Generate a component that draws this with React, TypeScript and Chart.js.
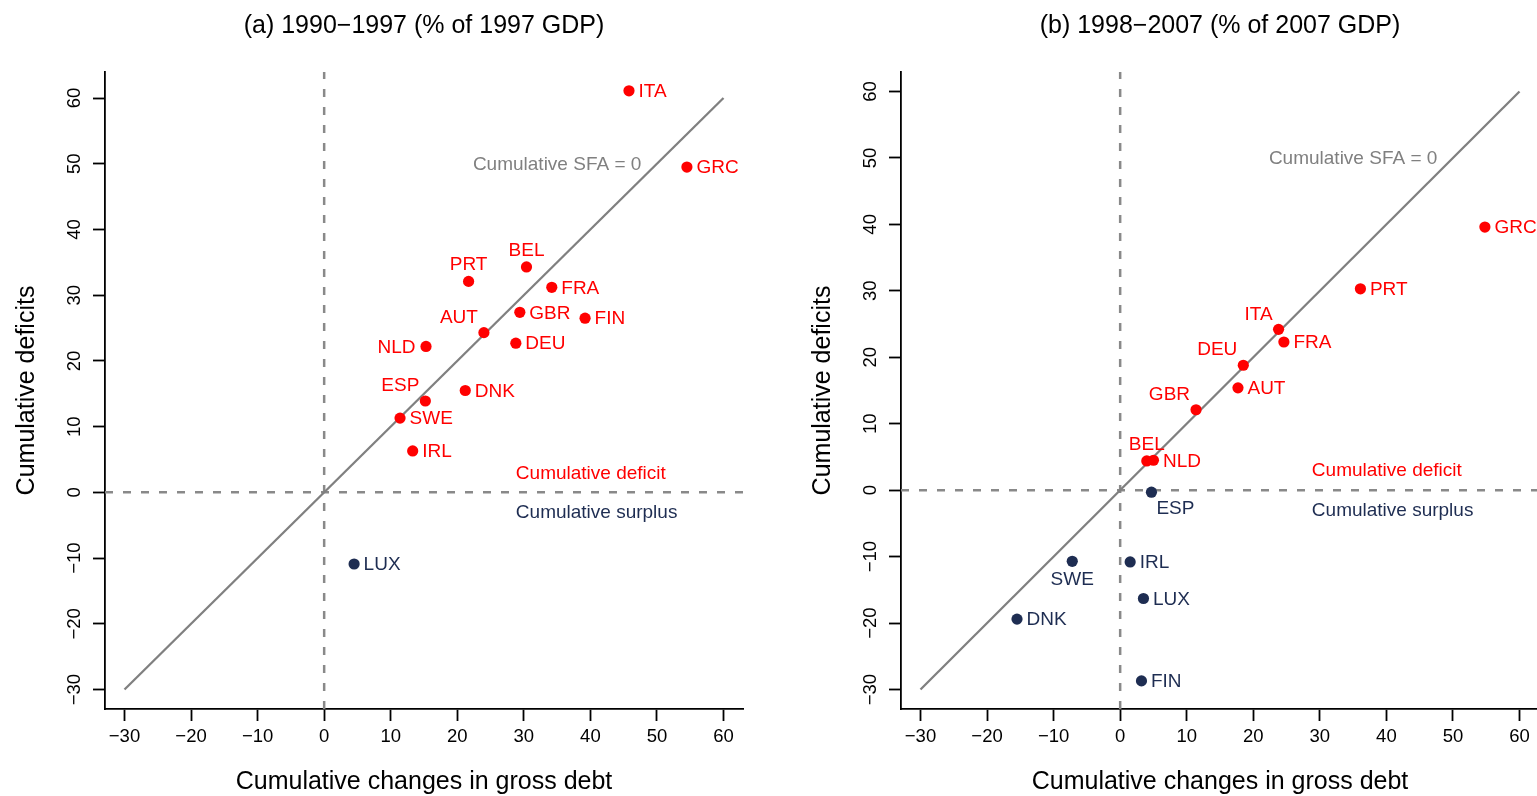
import React, { useEffect, useRef } from "react";
import { Chart, registerables } from "chart.js";

Chart.register(...registerables);

// ---------- data ----------
const countriesA = ["ITA", "GRC", "BEL", "PRT", "FRA", "GBR", "FIN", "AUT", "DEU", "NLD", "DNK", "ESP", "SWE", "IRL", "LUX"];
const debtA = [45.8, 54.5, 30.4, 21.7, 34.2, 29.4, 39.2, 24.0, 28.8, 15.3, 21.2, 15.2, 11.4, 13.3, 4.5];
const deficitA = [61.1, 49.5, 34.3, 32.1, 31.2, 27.4, 26.5, 24.3, 22.7, 22.2, 15.5, 13.9, 11.3, 6.3, -10.9];
const labelPosA = ["right", "right", "above", "above", "right", "right", "right", "aboveLeft", "right", "left", "right", "aboveLeft", "right", "right", "right"];

const countriesB = ["GRC", "PRT", "ITA", "FRA", "DEU", "AUT", "GBR", "BEL", "NLD", "ESP", "SWE", "IRL", "LUX", "DNK", "FIN"];
const debtB = [54.8, 36.1, 23.8, 24.6, 18.5, 17.7, 11.4, 4.0, 5.0, 4.7, -7.2, 1.5, 3.5, -15.5, 3.2];
const deficitB = [39.6, 30.3, 24.2, 22.3, 18.8, 15.4, 12.1, 4.4, 4.5, -0.3, -10.7, -10.8, -16.3, -19.4, -28.7];
const labelPosB = ["right", "right", "aboveLeft", "right", "aboveLeft", "right", "aboveLeft", "above", "right", "belowRight", "below", "right", "right", "right", "right"];

const xTicks = [-30, -20, -10, 0, 10, 20, 30, 40, 50, 60];
const yTicks = [-30, -20, -10, 0, 10, 20, 30, 40, 50, 60];
const xLimits = [-32.93, 62.93];
const yLimitsA = [-32.96, 63.96];
const yLimitsB = [-32.93, 62.93];
const sfaLine = [-30, 60];

const titleA = "(a) 1990\u22121997 (% of 1997 GDP)";
const titleB = "(b) 1998\u22122007 (% of 2007 GDP)";
const xTitle = "Cumulative changes in gross debt";
const yTitle = "Cumulative deficits";
const sfaText = "Cumulative SFA = 0";
const deficitText = "Cumulative deficit";
const surplusText = "Cumulative surplus";
const sfaTextPos = [35, 50];
const deficitTextPos = [28.8, 3.05];
const surplusTextPos = [28.8, -3.0];

// ---------- style ----------
const FONT = "'Liberation Sans', Arial, Helvetica, sans-serif";
const RED = "#FF0000";
const NAVY = "#1E2D52";
const GREY = "#808080";
const DASH_GREY = "#898989";
const W = 796;
const H = 796;

const fmt = (v: number) => (v < 0 ? "\u2212" + Math.abs(v) : String(v));

type Panel = {
  title: string;
  countries: string[];
  debt: number[];
  deficit: number[];
  labelPos: string[];
  yLimits: number[];
};

const panels: Panel[] = [
  { title: titleA, countries: countriesA, debt: debtA, deficit: deficitA, labelPos: labelPosA, yLimits: yLimitsA },
  { title: titleB, countries: countriesB, debt: debtB, deficit: deficitB, labelPos: labelPosB, yLimits: yLimitsB },
];

function makePlugin(p: Panel, colors: string[]) {
  return {
    id: "customText",
    afterDatasetsDraw(chart: any) {
      const ctx = chart.ctx;
      const meta = chart.getDatasetMeta(0);
      const xs = chart.scales.x;
      const ys = chart.scales.y;
      ctx.save();
      ctx.font = `19px ${FONT}`;
      ctx.textBaseline = "middle";
      meta.data.forEach((el: any, i: number) => {
        const { x, y } = el.getProps(["x", "y"], true);
        let tx = x;
        let ty = y + 1;
        let align: CanvasTextAlign = "left";
        switch (p.labelPos[i]) {
          case "right": tx = x + 9.5; align = "left"; break;
          case "left": tx = x - 10.5; align = "right"; break;
          case "above": ty = y - 16.5; align = "center"; break;
          case "below": ty = y + 18; align = "center"; break;
          case "aboveLeft": tx = x - 6; ty = y - 15; align = "right"; break;
          case "belowRight": tx = x + 5; ty = y + 17; align = "left"; break;
        }
        ctx.textAlign = align;
        ctx.fillStyle = colors[i];
        ctx.fillText(p.countries[i], tx, ty);
      });
      // annotations
      ctx.textAlign = "center";
      ctx.fillStyle = GREY;
      ctx.fillText(sfaText, xs.getPixelForValue(sfaTextPos[0]), ys.getPixelForValue(sfaTextPos[1]) + 1);
      ctx.textAlign = "left";
      ctx.fillStyle = RED;
      ctx.fillText(deficitText, xs.getPixelForValue(deficitTextPos[0]), ys.getPixelForValue(deficitTextPos[1]) + 1);
      ctx.fillStyle = NAVY;
      ctx.fillText(surplusText, xs.getPixelForValue(surplusTextPos[0]), ys.getPixelForValue(surplusTextPos[1]) + 1);
      ctx.restore();
    },
    afterDraw(chart: any) {
      const ctx = chart.ctx;
      const ca = chart.chartArea;
      ctx.save();
      ctx.font = `25px ${FONT}`;
      ctx.fillStyle = "#000";
      ctx.textAlign = "center";
      ctx.textBaseline = "middle";
      ctx.fillText(p.title, (ca.left + ca.right) / 2, 26);
      ctx.restore();
    },
  };
}

function makeConfig(p: Panel): any {
  const pts = p.debt.map((x, i) => ({ x, y: p.deficit[i] }));
  const colors = p.deficit.map((v) => (v >= 0 ? RED : NAVY));
  const tickFont = { family: FONT, size: 18.5 };
  const titleFont = { family: FONT, size: 25 };
  return {
    type: "scatter",
    data: {
      datasets: [
        {
          data: pts,
          pointRadius: 5.6,
          pointHoverRadius: 5.6,
          pointBackgroundColor: colors,
          pointBorderWidth: 0,
          order: 0,
        },
        {
          data: [
            { x: sfaLine[0], y: sfaLine[0] },
            { x: sfaLine[1], y: sfaLine[1] },
          ],
          showLine: true,
          borderColor: GREY,
          borderWidth: 2.3,
          pointRadius: 0,
          order: 2,
        },
        {
          data: [
            { x: 0, y: p.yLimits[0] },
            { x: 0, y: p.yLimits[1] },
          ],
          showLine: true,
          borderColor: DASH_GREY,
          borderWidth: 2.5,
          borderDash: [8, 10],
          pointRadius: 0,
          order: 3,
        },
        {
          data: [
            { x: xLimits[0], y: 0 },
            { x: xLimits[1], y: 0 },
          ],
          showLine: true,
          borderColor: DASH_GREY,
          borderWidth: 2.5,
          borderDash: [8, 10],
          pointRadius: 0,
          order: 3,
        },
      ],
    },
    options: {
      responsive: false,
      animation: false,
      events: [],
      layout: { padding: { left: 0, right: 53, top: 72, bottom: 0 } },
      plugins: { legend: { display: false }, tooltip: { enabled: false }, title: { display: false } },
      scales: {
        x: {
          type: "linear",
          position: "bottom",
          min: xLimits[0],
          max: xLimits[1],
          afterBuildTicks: (s: any) => {
            s.ticks = xTicks.map((v) => ({ value: v }));
          },
          afterFit: (s: any) => {
            s.height = 87;
          },
          ticks: {
            callback: (v: any) => fmt(Number(v)),
            font: tickFont,
            color: "#000",
            padding: 5,
            autoSkip: false,
            maxRotation: 0,
            minRotation: 0,
          },
          grid: { drawOnChartArea: false, drawTicks: true, tickLength: 12, tickWidth: 1.8, tickColor: "#000" },
          border: { display: true, color: "#000", width: 1.8 },
          title: { display: true, text: xTitle, font: titleFont, color: "#000", padding: { top: 0, bottom: -1.5 } },
        },
        y: {
          type: "linear",
          position: "left",
          min: p.yLimits[0],
          max: p.yLimits[1],
          afterBuildTicks: (s: any) => {
            s.ticks = yTicks.map((v) => ({ value: v }));
          },
          afterFit: (s: any) => {
            s.width = 105;
          },
          ticks: {
            callback: (v: any) => fmt(Number(v)),
            font: tickFont,
            color: "#000",
            padding: 2,
            autoSkip: false,
            minRotation: 90,
            maxRotation: 90,
            crossAlign: "center",
          },
          grid: { drawOnChartArea: false, drawTicks: true, tickLength: 12, tickWidth: 1.8, tickColor: "#000" },
          border: { display: true, color: "#000", width: 1.8 },
          title: { display: true, text: yTitle, font: titleFont, color: "#000", padding: { top: 12.5, bottom: 0 } },
        },
      },
    },
    plugins: [makePlugin(p, colors)],
  };
}

function PanelChart({ panel, left }: { panel: Panel; left: number }) {
  const ref = useRef<HTMLCanvasElement>(null);
  useEffect(() => {
    if (!ref.current) return;
    const chart = new Chart(ref.current, makeConfig(panel));
    return () => chart.destroy();
  }, [panel]);
  return (
    <canvas
      ref={ref}
      width={W}
      height={H}
      style={{ position: "absolute", left, top: 0, width: W, height: H, display: "block" }}
    />
  );
}

export default function App() {
  return (
    <div
      style={{
        position: "fixed",
        left: 0,
        top: 0,
        width: 1537,
        height: 796,
        overflow: "hidden",
        background: "#fff",
      }}
    >
      <PanelChart panel={panels[0]} left={0} />
      <PanelChart panel={panels[1]} left={796} />
    </div>
  );
}
